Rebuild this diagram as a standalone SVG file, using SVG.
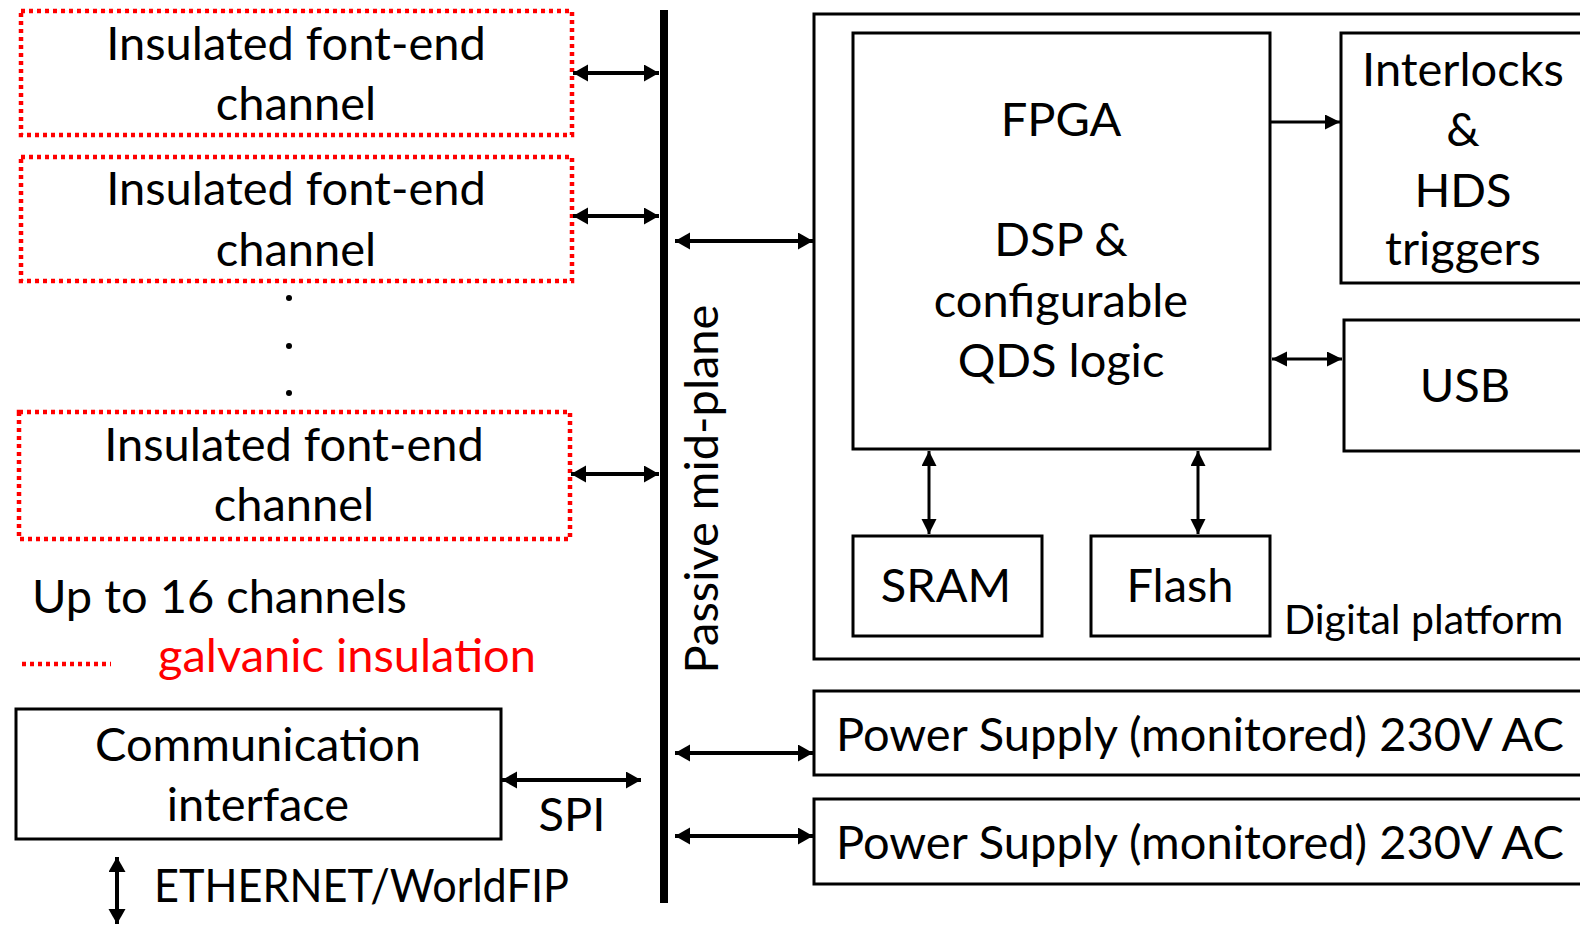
<svg xmlns="http://www.w3.org/2000/svg" width="1580" height="925" viewBox="0 0 1580 925">
<style>
text{font-family:Lato,"Liberation Sans",sans-serif;font-size:47px;fill:#000;text-anchor:middle}
.l{text-anchor:start}
.red{fill:#ff0000}
.ins{fill:none;stroke:#ff0000;stroke-width:4.5;stroke-dasharray:4 4}
.box{fill:#fff;stroke:#000;stroke-width:3}
.c{stroke:#000;stroke-width:4;fill:none}
.t{stroke:#000;stroke-width:3;fill:none}
</style>
<defs>
<marker id="ah" markerUnits="userSpaceOnUse" markerWidth="18" markerHeight="18" refX="15" refY="8.5" orient="auto-start-reverse"><path d="M0,0 L15,8.5 L0,17 z" fill="#000"/></marker>
<marker id="as" markerUnits="userSpaceOnUse" markerWidth="17" markerHeight="17" refX="15" refY="7.5" orient="auto-start-reverse"><path d="M0,0 L15,7.5 L0,15 z" fill="#000"/></marker>
</defs>
<rect width="1580" height="925" fill="#fff"/>

<g id="channel1"><rect class="ins" x="21" y="11" width="551" height="124"/><text x="296" y="60">Insulated font-end</text><text x="296" y="120">channel</text></g>
<g id="channel2"><rect class="ins" x="21" y="157" width="551" height="124"/><text x="296" y="205">Insulated font-end</text><text x="296" y="266">channel</text></g>
<g id="dots"><circle cx="289" cy="298" r="3"/><circle cx="289" cy="346" r="3"/><circle cx="289" cy="393" r="3"/></g>
<g id="channel3"><rect class="ins" x="19" y="412" width="551" height="127"/><text x="294" y="461">Insulated font-end</text><text x="294" y="521">channel</text></g>
<g id="legend"><text class="l" x="32" y="613">Up to 16 channels</text><line class="ins" x1="22" y1="664" x2="111" y2="664"/><text class="l red" x="158" y="672">galvanic insulation</text></g>
<g id="comm"><rect class="box" x="16" y="709" width="485" height="130"/><text x="258" y="761">Communication</text><text x="258" y="821">interface</text></g>
<g id="midplane"><rect x="660" y="10" width="8" height="893" fill="#000"/><text transform="translate(718,489) rotate(-90)">Passive mid-plane</text></g>
<g id="digital"><rect class="box" x="814" y="14" width="790" height="645"/><text class="l" x="1284" y="634" style="font-size:41px">Digital platform</text></g>
<g id="fpga"><rect class="box" x="853" y="33" width="417" height="416"/><text x="1061" y="136">FPGA</text><text x="1061" y="256">DSP &amp;</text><text x="1061" y="317">configurable</text><text x="1061" y="377">QDS logic</text></g>
<g id="interlocks"><rect class="box" x="1341" y="33" width="260" height="250"/><text x="1463" y="86">Interlocks</text><text x="1463" y="146">&amp;</text><text x="1463" y="207">HDS</text><text x="1463" y="265">triggers</text></g>
<g id="usb"><rect class="box" x="1344" y="320" width="260" height="131"/><text x="1465" y="402">USB</text></g>
<g id="sram"><rect class="box" x="853" y="536" width="189" height="100"/><text x="946" y="602">SRAM</text></g>
<g id="flash"><rect class="box" x="1091" y="536" width="179" height="100"/><text x="1180" y="602">Flash</text></g>
<g id="ps1"><rect class="box" x="814" y="691" width="790" height="84"/><text class="l" x="836" y="751">Power Supply (monitored) 230V AC</text></g>
<g id="ps2"><rect class="box" x="814" y="799" width="790" height="85"/><text class="l" x="836" y="859">Power Supply (monitored) 230V AC</text></g>
<g id="labels"><text x="572" y="831">SPI</text><text class="l" x="154" y="902" textLength="415" lengthAdjust="spacingAndGlyphs">ETHERNET/WorldFIP</text></g>

<g id="connectors">
<line class="c" x1="573" y1="73" x2="659" y2="73" marker-start="url(#ah)" marker-end="url(#ah)"/>
<line class="c" x1="573" y1="216" x2="659" y2="216" marker-start="url(#ah)" marker-end="url(#ah)"/>
<line class="c" x1="571" y1="474" x2="659" y2="474" marker-start="url(#ah)" marker-end="url(#ah)"/>
<line class="c" x1="502" y1="780" x2="641" y2="780" marker-start="url(#ah)" marker-end="url(#ah)"/>
<line class="c" x1="117" y1="857" x2="117" y2="924" marker-start="url(#ah)" marker-end="url(#ah)"/>
<line class="c" x1="675" y1="241" x2="813" y2="241" marker-start="url(#ah)" marker-end="url(#ah)"/>
<line class="c" x1="675" y1="753" x2="813" y2="753" marker-start="url(#ah)" marker-end="url(#ah)"/>
<line class="c" x1="675" y1="836" x2="813" y2="836" marker-start="url(#ah)" marker-end="url(#ah)"/>
<line class="t" x1="1271" y1="122" x2="1340" y2="122" marker-end="url(#as)"/>
<line class="t" x1="1272" y1="359" x2="1342" y2="359" marker-start="url(#as)" marker-end="url(#as)"/>
<line class="t" x1="929" y1="451" x2="929" y2="534" marker-start="url(#as)" marker-end="url(#as)"/>
<line class="t" x1="1198" y1="451" x2="1198" y2="534" marker-start="url(#as)" marker-end="url(#as)"/>
</g>
</svg>
